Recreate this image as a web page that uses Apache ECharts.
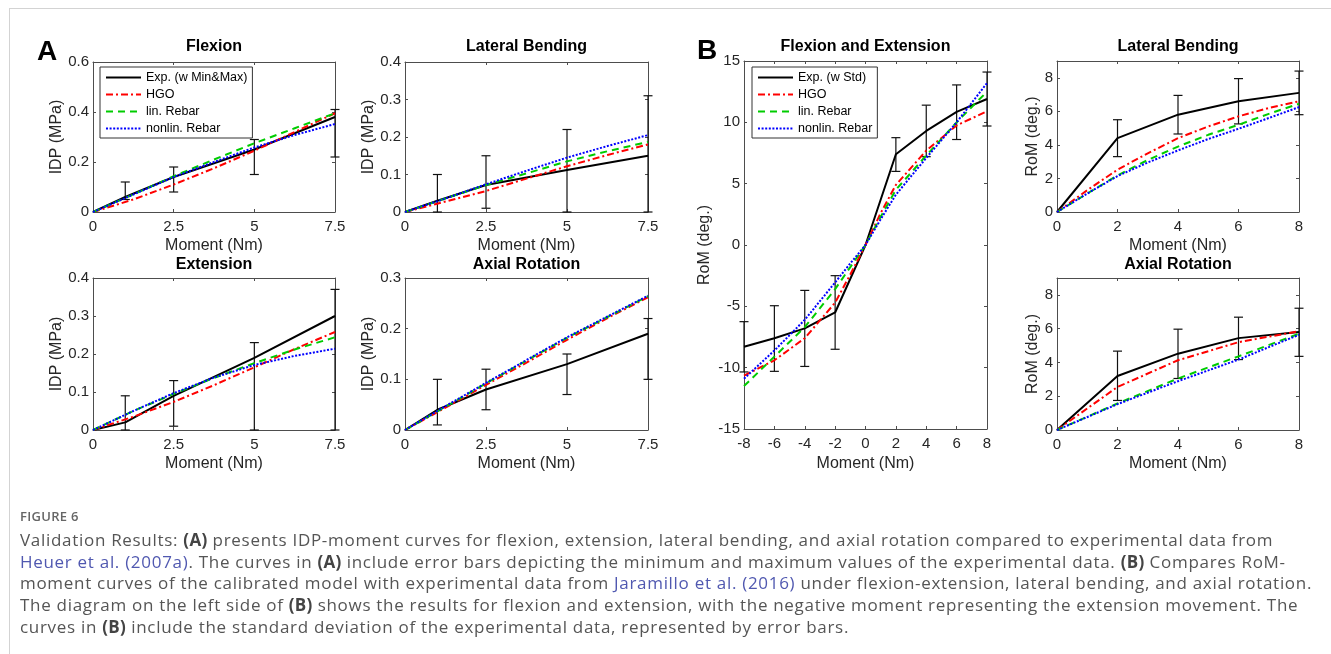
<!DOCTYPE html>
<html>
<head>
<meta charset="utf-8">
<title>Figure 6</title>
<script src="https://cdn.jsdelivr.net/npm/echarts@6.0.0/dist/echarts.min.js"></script>
<style>
  html, body { margin: 0; padding: 0; background: #fff; }
  #frame { position: absolute; left: 9px; top: 8px; width: 1322px; height: 646px;
           border-top: 1px solid #d3d3d3; border-left: 1px solid #d3d3d3; pointer-events: none; }
  #chart { position: absolute; left: 0; top: 0; width: 1331px; height: 490px; }
  #caption { position: absolute; left: 20px; top: 503px; font-family: "Open Sans", sans-serif;
             color: #555; white-space: nowrap; }
  #caption .fig { font-size: 13px; font-weight: 600; color: #666; letter-spacing: 0.3px; line-height: 26px; }
  #caption .line { font-size: 17px; letter-spacing: 0.7px; line-height: 21.7px; }
  #caption b { font-weight: 700; color: #444; letter-spacing: 0.3px; }
  #caption a { color: #5058b0; text-decoration: none; }
</style>
</head>
<body>
<div id="chart"></div>
<div id="frame"></div>
<div id="caption">
  <div class="fig">FIGURE 6</div>
  <div class="line">Validation Results: <b>(A)</b> presents IDP-moment curves for flexion, extension, lateral bending, and axial rotation compared to experimental data from</div>
  <div class="line"><a>Heuer et al. (2007a)</a>. The curves in <b>(A)</b> include error bars depicting the minimum and maximum values of the experimental data. <b>(B)</b> Compares RoM-</div>
  <div class="line">moment curves of the calibrated model with experimental data from <a>Jaramillo et al. (2016)</a> under flexion-extension, lateral bending, and axial rotation.</div>
  <div class="line">The diagram on the left side of <b>(B)</b> shows the results for flexion and extension, with the negative moment representing the extension movement. The</div>
  <div class="line">curves in <b>(B)</b> include the standard deviation of the experimental data, represented by error bars.</div>
</div>
<script>
// ---- data (A: IDP in MPa, B: RoM in deg.) ----
var momentA = [0, 1, 2.5, 5, 7.5];
var errMomentA = [1, 2.5, 5, 7.5];
var modelMomentA = [0, 1.25, 2.5, 3.75, 5, 6.25, 7.5];

var flexExp = [0, 0.06, 0.14, 0.25, 0.38];
var flexMin = [0.05, 0.08, 0.15, 0.22];
var flexMax = [0.12, 0.18, 0.29, 0.41];
var flexHGO = [0, 0.05, 0.11, 0.175, 0.245, 0.32, 0.395];
var flexLin = [0, 0.07, 0.143, 0.21, 0.275, 0.335, 0.395];
var flexNonlin = [0, 0.07, 0.14, 0.2, 0.258, 0.308, 0.352];

var latAExp = [0, 0.03, 0.072, 0.112, 0.15];
var latAMin = [0, 0.01, 0, 0];
var latAMax = [0.10, 0.15, 0.22, 0.31];
var latAHGO = [0, 0.028, 0.056, 0.089, 0.122, 0.152, 0.18];
var latALin = [0, 0.036, 0.072, 0.103, 0.135, 0.162, 0.187];
var latANonlin = [0, 0.036, 0.074, 0.11, 0.145, 0.176, 0.205];

var extExp = [0, 0.02, 0.09, 0.19, 0.30];
var extMin = [0, 0.01, 0, 0];
var extMax = [0.09, 0.13, 0.23, 0.37];
var extHGO = [0, 0.035, 0.074, 0.118, 0.165, 0.213, 0.258];
var extLin = [0, 0.05, 0.095, 0.137, 0.176, 0.212, 0.244];
var extNonlin = [0, 0.05, 0.097, 0.138, 0.171, 0.195, 0.214];

var axAExp = [0, 0.04, 0.08, 0.13, 0.19];
var axAMin = [0.01, 0.04, 0.07, 0.10];
var axAMax = [0.10, 0.12, 0.15, 0.22];
var axAHGO = [0, 0.044, 0.089, 0.133, 0.178, 0.221, 0.262];
var axALin = [0, 0.046, 0.092, 0.137, 0.182, 0.223, 0.264];
var axANonlin = [0, 0.047, 0.093, 0.138, 0.183, 0.224, 0.265];

var momentFE = [-8, -6, -4, -2, 0, 2, 4, 6, 8];
var errMomentFE = [-8, -6, -4, -2, 2, 4, 6, 8];
var modelMomentFE = [-8, -6, -4, -2, -1, 0, 1, 2, 4, 6, 8];
var feExp = [-8.3, -7.6, -6.8, -5.5, 0, 7.4, 9.3, 10.85, 11.9];
var feLow = [-10.35, -10.3, -9.9, -8.5, 6.0, 7.2, 8.6, 9.7];
var feHigh = [-6.25, -4.95, -3.7, -2.5, 8.75, 11.4, 13.05, 14.1];
var feHGO = [-10.65, -9.4, -7.6, -4.7, -2.4, 0, 2.6, 4.9, 7.7, 9.75, 10.9];
var feLin = [-11.5, -9.1, -6.7, -3.6, -1.8, 0, 2.3, 4.5, 7.3, 10.0, 12.5];
var feNonlin = [-10.9, -8.6, -6.1, -3.05, -1.5, 0, 2.1, 4.1, 7.1, 10.0, 13.2];

var momentB = [0, 2, 4, 6, 8];
var errMomentB = [2, 4, 6, 8];
var modelMomentLB = [0, 1, 2, 3, 4, 5, 6, 7, 8];
var lbExp = [0, 4.4, 5.8, 6.6, 7.1];
var lbLow = [3.3, 4.65, 5.25, 5.8];
var lbHigh = [5.5, 6.95, 7.95, 8.4];
var lbHGO = [0, 1.3, 2.52, 3.5, 4.4, 5.1, 5.7, 6.2, 6.6];
var lbLin = [0, 1.1, 2.18, 3.1, 3.9, 4.6, 5.2, 5.85, 6.45];
var lbNonlin = [0, 1.1, 2.14, 2.95, 3.67, 4.35, 4.96, 5.6, 6.25];

var arExp = [0, 3.2, 4.52, 5.44, 5.8];
var arLow = [1.75, 3.05, 4.17, 4.36];
var arHigh = [4.67, 5.97, 6.68, 7.21];
var arHGO = [0, 2.55, 4.13, 5.2, 5.85];
var arLin = [0, 1.57, 3.05, 4.36, 5.7];
var arNonlin = [0, 1.53, 2.89, 4.17, 5.64];

var expNameA = 'Exp. (w Min&Max)';
var expNameB = 'Exp. (w Std)';
var modelNames = ['HGO', 'lin. Rebar', 'nonlin. Rebar'];

// ---- layout ----
var FONT = '"Liberation Sans", Arial, Helvetica, sans-serif';
var axisColor = '#4d4d4d';
var textColor = '#262626';

var panels = [
  { title: 'Flexion', box: [93, 62, 242, 150], x: [0, 7.5, 2.5], y: [0, 0.6, 0.2], yName: 'IDP (MPa)', yGap: 26,
    exp: expNameA, expX: momentA, expY: flexExp, errX: errMomentA, lo: flexMin, hi: flexMax,
    modelX: modelMomentA, models: [flexHGO, flexLin, flexNonlin] },
  { title: 'Lateral Bending', box: [405, 62, 243, 150], x: [0, 7.5, 2.5], y: [0, 0.4, 0.1], yName: 'IDP (MPa)', yGap: 26,
    exp: expNameA, expX: momentA, expY: latAExp, errX: errMomentA, lo: latAMin, hi: latAMax,
    modelX: modelMomentA, models: [latAHGO, latALin, latANonlin] },
  { title: 'Extension', box: [93, 278, 242, 152], x: [0, 7.5, 2.5], y: [0, 0.4, 0.1], yName: 'IDP (MPa)', yGap: 26,
    exp: expNameA, expX: momentA, expY: extExp, errX: errMomentA, lo: extMin, hi: extMax,
    modelX: modelMomentA, models: [extHGO, extLin, extNonlin] },
  { title: 'Axial Rotation', box: [405, 278, 243, 152], x: [0, 7.5, 2.5], y: [0, 0.3, 0.1], yName: 'IDP (MPa)', yGap: 26,
    exp: expNameA, expX: momentA, expY: axAExp, errX: errMomentA, lo: axAMin, hi: axAMax,
    modelX: modelMomentA, models: [axAHGO, axALin, axANonlin] },
  { title: 'Flexion and Extension', box: [744, 61, 243, 368], x: [-8, 8, 2], y: [-15, 15, 5], yName: 'RoM (deg.)', yGap: 31,
    exp: expNameB, expX: momentFE, expY: feExp, errX: errMomentFE, lo: feLow, hi: feHigh,
    modelX: modelMomentFE, models: [feHGO, feLin, feNonlin] },
  { title: 'Lateral Bending', box: [1057, 61, 242, 151], x: [0, 8, 2], y: [0, 9, 2], yName: 'RoM (deg.)', yGap: 13, hideMax: true,
    exp: expNameB, expX: momentB, expY: lbExp, errX: errMomentB, lo: lbLow, hi: lbHigh,
    modelX: modelMomentLB, models: [lbHGO, lbLin, lbNonlin] },
  { title: 'Axial Rotation', box: [1057, 278, 242, 152], x: [0, 8, 2], y: [0, 9, 2], yName: 'RoM (deg.)', yGap: 13, hideMax: true,
    exp: expNameB, expX: momentB, expY: arExp, errX: errMomentB, lo: arLow, hi: arHigh,
    modelX: momentB, models: [arHGO, arLin, arNonlin] }
];

var modelStyles = [
  { color: '#ff0000', type: [7, 3, 2, 3] },
  { color: '#00cc00', type: [7, 5] },
  { color: '#0000ff', type: [2, 1.6] }
];

function zip(xs, ys) {
  return xs.map(function (x, i) { return [x, ys[i]]; });
}

function renderErr(params, api) {
  var x = api.value(0);
  var lo = api.coord([x, api.value(1)]);
  var hi = api.coord([x, api.value(2)]);
  var w = 4.5;
  var st = { stroke: '#111', lineWidth: 1.2 };
  return {
    type: 'group',
    children: [
      { type: 'line', shape: { x1: lo[0], y1: lo[1], x2: hi[0], y2: hi[1] }, style: st },
      { type: 'line', shape: { x1: lo[0] - w, y1: lo[1], x2: lo[0] + w, y2: lo[1] }, style: st },
      { type: 'line', shape: { x1: hi[0] - w, y1: hi[1], x2: hi[0] + w, y2: hi[1] }, style: st }
    ]
  };
}

var grids = [], xAxes = [], yAxes = [], series = [], graphics = [];

panels.forEach(function (p, i) {
  grids.push({ left: p.box[0], top: p.box[1], width: p.box[2], height: p.box[3], containLabel: false });

  var line = { show: true, onZero: false, lineStyle: { color: axisColor, width: 1 } };
  var tick = { show: true, inside: true, length: 3, lineStyle: { color: axisColor } };
  var label = { color: textColor, fontSize: 15, fontFamily: FONT };

  xAxes.push({
    type: 'value', gridIndex: i, position: 'bottom', min: p.x[0], max: p.x[1], interval: p.x[2],
    axisLine: line, axisTick: tick, splitLine: { show: false },
    axisLabel: Object.assign({ margin: 7 }, label),
    name: 'Moment (Nm)', nameLocation: 'middle', nameGap: 26,
    nameTextStyle: { color: textColor, fontSize: 16, fontFamily: FONT }
  });
  xAxes.push({
    type: 'value', gridIndex: i, position: 'top', min: p.x[0], max: p.x[1], interval: p.x[2],
    axisLine: line, axisTick: tick, splitLine: { show: false }, axisLabel: { show: false }
  });
  yAxes.push({
    type: 'value', gridIndex: i, position: 'left', min: p.y[0], max: p.y[1], interval: p.y[2],
    axisLine: line, axisTick: tick, splitLine: { show: false },
    axisLabel: Object.assign({ margin: 4, showMaxLabel: !p.hideMax }, label),
    name: p.yName, nameLocation: 'middle', nameGap: p.yGap,
    nameTextStyle: { color: textColor, fontSize: 16, fontFamily: FONT }
  });
  yAxes.push({
    type: 'value', gridIndex: i, position: 'right', min: p.y[0], max: p.y[1], interval: p.y[2],
    axisLine: line, axisTick: tick, splitLine: { show: false }, axisLabel: { show: false }
  });

  var ax = 2 * i;
  series.push({
    name: p.exp, type: 'line', xAxisIndex: ax, yAxisIndex: ax, data: zip(p.expX, p.expY),
    symbol: 'none', lineStyle: { color: '#000', width: 2 }, itemStyle: { color: '#000' }, z: 3
  });
  series.push({
    name: 'err' + i, type: 'custom', xAxisIndex: ax, yAxisIndex: ax,
    data: p.errX.map(function (x, k) { return [x, p.lo[k], p.hi[k]]; }),
    encode: { x: 0, y: [1, 2] }, renderItem: renderErr, z: 3
  });
  p.models.forEach(function (m, k) {
    var s = modelStyles[k];
    series.push({
      name: modelNames[k], type: 'line', xAxisIndex: ax, yAxisIndex: ax, data: zip(p.modelX, m),
      symbol: 'none', lineStyle: { color: s.color, width: 2, type: s.type }, itemStyle: { color: s.color }, z: 4 + k
    });
  });

  graphics.push({
    type: 'text', x: p.box[0] + p.box[2] / 2, y: p.box[1] < 100 ? 47 : 265,
    style: { text: p.title, fill: '#000', font: 'bold 16px ' + FONT, textAlign: 'center', textVerticalAlign: 'middle' }
  });
});

graphics.push({ type: 'text', x: 37, y: 52, style: { text: 'A', fill: '#000', font: 'bold 28px ' + FONT, textAlign: 'left', textVerticalAlign: 'middle' } });
graphics.push({ type: 'text', x: 697, y: 51, style: { text: 'B', fill: '#000', font: 'bold 28px ' + FONT, textAlign: 'left', textVerticalAlign: 'middle' } });

function legendAt(left, top, expName) {
  return {
    left: left, top: top, orient: 'vertical', data: [expName].concat(modelNames),
    itemWidth: 35, itemHeight: 13, itemGap: 4, padding: [4, 5, 3, 5],
    borderColor: '#333', borderWidth: 1, backgroundColor: '#fff', selectedMode: false,
    itemStyle: { opacity: 0, borderWidth: 0 },
    textStyle: { color: '#000', fontSize: 12.5, fontFamily: FONT }
  };
}

var chart = echarts.init(document.getElementById('chart'), null, { renderer: 'canvas' });
chart.setOption({
  animation: false,
  backgroundColor: 'transparent',
  grid: grids,
  xAxis: xAxes,
  yAxis: yAxes,
  legend: [legendAt(100, 67, expNameA), legendAt(752, 67, expNameB)],
  graphic: graphics,
  series: series
});
</script>
</body>
</html>
